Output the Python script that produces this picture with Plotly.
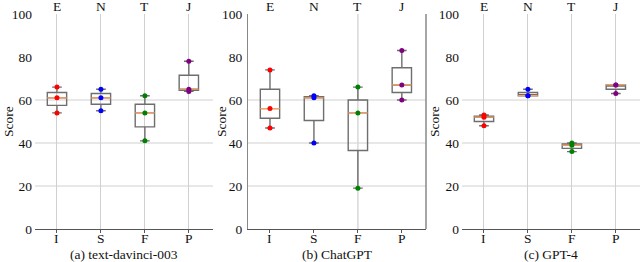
import numpy as np
import plotly.graph_objects as go

categories_bottom = ["I", "S", "F", "P"]
categories_top = ["E", "N", "T", "J"]
point_colors = ["#ff0000", "#0000ff", "#008000", "#800080"]
panel_titles = ["(a) text-davinci-003", "(b) ChatGPT", "(c) GPT-4"]

davinci_scores = [[66, 61, 54], [65, 61, 55], [62, 54, 41], [78, 65, 64]]
chatgpt_scores = [[74, 56, 47], [62, 61, 40], [66, 54, 19], [83, 67, 60]]
gpt4_scores = [[53, 52, 48], [65, 62, 62], [40, 39, 36], [67, 67, 63]]
panels = [davinci_scores, chatgpt_scores, gpt4_scores]

y_ticks = [0, 20, 40, 60, 80, 100]
h_grid = [20, 40, 60]

FONT = "Liberation Serif, Times New Roman, serif"
W, H = 640, 262
domains = [(35, 213), (248, 426), (462, 640)]
y_top_px, y_bot_px = 14, 229
ydom = [1 - y_bot_px / H, 1 - y_top_px / H]
xrange_ = [-0.5, 3.55]
tf = dict(family=FONT, size=13.5, color="#111")

fig = go.Figure()
for p, data in enumerate(panels):
    sfx = "" if p == 0 else str(p + 1)
    xa, ya = "x" + sfx, "y" + sfx
    xs = list(range(len(categories_bottom)))
    arr = [np.array(d, dtype=float) for d in data]
    q1 = [float(np.percentile(a, 25)) for a in arr]
    med = [float(np.median(a)) for a in arr]
    q3 = [float(np.percentile(a, 75)) for a in arr]
    lo = [float(a.min()) for a in arr]
    hi = [float(a.max()) for a in arr]
    fig.add_trace(go.Box(x=xs, q1=q1, median=med, q3=q3, lowerfence=lo, upperfence=hi,
                         width=0.44, whiskerwidth=0.5, line=dict(color="#6e6e6e", width=1.4),
                         fillcolor="rgba(0,0,0,0)", boxpoints=False, showlegend=False,
                         hoverinfo="skip", xaxis=xa, yaxis=ya))
    fig.add_trace(go.Box(x=xs, q1=med, median=med, q3=med, lowerfence=med, upperfence=med,
                         width=0.44, whiskerwidth=0, line=dict(color="#ffa060", width=1.2),
                         fillcolor="rgba(0,0,0,0)", boxpoints=False, showlegend=False,
                         hoverinfo="skip", xaxis=xa, yaxis=ya))
    for i, d in enumerate(data):
        fig.add_trace(go.Scatter(x=[i] * len(d), y=d, mode="markers",
                                 marker=dict(color=point_colors[i], size=5),
                                 showlegend=False, xaxis=xa, yaxis=ya))
    x0, x1 = domains[p]
    fig.update_layout(**{
        "xaxis" + sfx: dict(domain=[x0 / W, x1 / W], range=xrange_, anchor=ya,
                            tickvals=xs, showticklabels=False, automargin=False,
                            showgrid=(p != 1), gridcolor="#d0d0d0", gridwidth=1,
                            showline=True, linecolor="#555555", linewidth=1,
                            ticks="outside", ticklen=3, tickcolor="#555555",
                            zeroline=False),
        "yaxis" + sfx: dict(domain=ydom, range=[0, 100], anchor=xa, automargin=False,
                            tickvals=y_ticks, showgrid=False, zeroline=False,
                            showline=(p == 1), linecolor="#888888",
                            ticks="", ticklabelstandoff=2, tickfont=tf),
    })
    for g in h_grid:
        fig.add_shape(type="line", xref=xa + " domain", yref=ya, x0=0, x1=1, y0=g, y1=g,
                      line=dict(color="#d0d0d0", width=1), layer="below")
    if p == 1:
        fig.add_shape(type="line", xref=xa, yref=ya + " domain", x0=2, x1=2, y0=0, y1=1,
                      line=dict(color="#d8d8d8", width=1.5), layer="below")
        fig.add_shape(type="line", xref=xa + " domain", yref=ya + " domain", x0=1, x1=1, y0=0, y1=1,
                      line=dict(color="#888888", width=1.5))
    for i, t in enumerate(categories_top):
        fig.add_annotation(x=i, xref=xa, y=1 - 7 / H, yref="paper", text=t, showarrow=False,
                           yanchor="middle", font=tf)
    for i, t in enumerate(categories_bottom):
        fig.add_annotation(x=i, xref=xa, y=1 - 238 / H, yref="paper", text=t, showarrow=False,
                           yanchor="middle", font=tf)
    fig.add_annotation(x=0.5, xref=xa + " domain", y=1 - 254 / H, yref="paper",
                       text=panel_titles[p], showarrow=False, yanchor="middle", font=tf)
    fig.add_annotation(x=(8 + [0, 213, 426][p]) / W, xref="paper", y=1 - 122 / H, yref="paper",
                       text="Score", textangle=-90, showarrow=False,
                       xanchor="center", yanchor="middle", font=tf)

fig.update_layout(width=W, height=H, margin=dict(l=0, r=0, t=0, b=0, autoexpand=False),
                  paper_bgcolor="white", plot_bgcolor="white", boxmode="overlay",
                  font=dict(family=FONT))
fig.write_html("out.html", config={"displayModeBar": False},
               post_script="document.body.style.margin='0';document.body.style.overflow='hidden';")
